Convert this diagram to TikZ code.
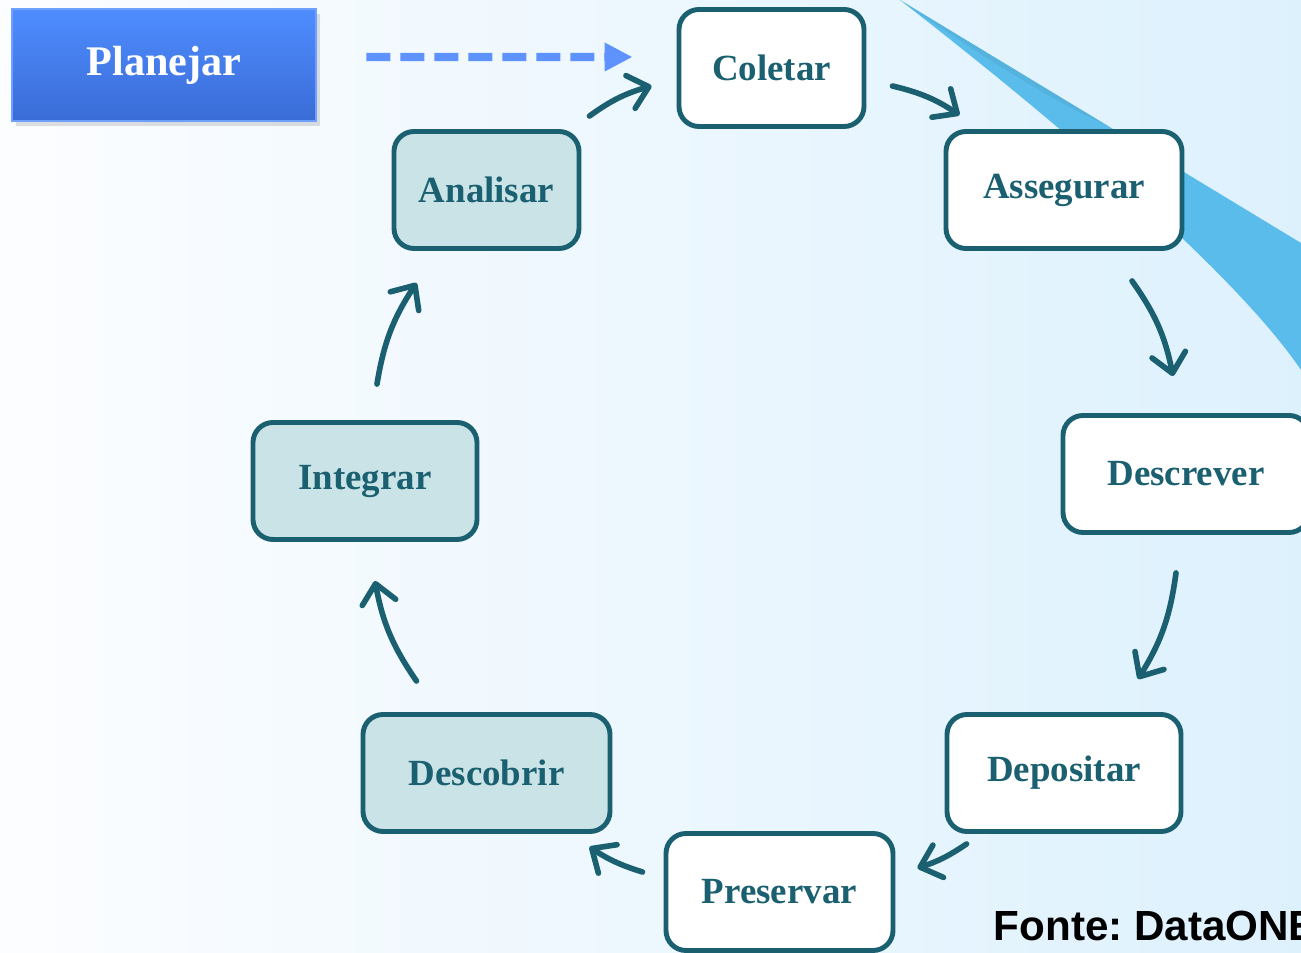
\documentclass[tikz,border=0pt]{standalone}
\usepackage{fontspec}
\setmainfont{Liberation Serif}
\newfontfamily\sansbold{Liberation Sans}
\usepackage{tikz}
\usetikzlibrary{arrows.meta, positioning, shadows}

\definecolor{tealdark}{RGB}{27,96,112}
\definecolor{tealfill}{RGB}{201,227,231}
\definecolor{planblue}{RGB}{94,147,255}
\definecolor{swoosh}{RGB}{90,188,234}

\begin{document}
\begin{tikzpicture}[
    stage/.style={draw=tealdark, line width=1.4pt, rounded corners=0.2cm, fill=white,
      minimum height=1.17cm, text=tealdark, font=\fontsize{10.5}{12}\selectfont\bfseries},
    done/.style={stage, fill=tealfill},
    flow/.style={draw=tealdark, line width=1.6pt, line cap=round,
      -{Straight Barb[length=1.9mm, width=3.4mm, round]}}
  ]
  \clip (0,0) rectangle (13.01,-9.53);
  \shade[left color={rgb,255:red,252;green,253;blue,255}, right color={rgb,255:red,221;green,241;blue,253}]
    (0,0) rectangle (13.01,-9.53);
  % ribbon in the upper right corner
  \fill[swoosh] (9.0,0) -- (13.01,-2.43) -- (13.01,-3.70)
    .. controls (12.40,-2.80) and (10.80,-1.40) .. (9.0,0);
  \fill[swoosh!85!black, opacity=0.35] (9.0,0) -- (11.1,-1.27) .. controls (10.5,-1.0) and (9.8,-0.55) .. (9.0,0);

  \node[draw={rgb,255:red,110;green,160;blue,255}, line width=0.8pt, top color={rgb,255:red,79;green,141;blue,255},
    bottom color={rgb,255:red,58;green,108;blue,214}, minimum width=3.04cm, minimum height=1.12cm,
    text=white, font=\fontsize{12}{14}\selectfont\bfseries,
    drop shadow={opacity=0.25, shadow xshift=0.04cm, shadow yshift=-0.05cm}] (plan) at (1.64,-0.65) {Planejar};

  \node[stage, minimum width=1.85cm] (col) at (7.715,-0.68) {Coletar};
  \node[stage, minimum width=2.36cm] (ass) at (10.64,-1.90) {Assegurar};
  \node[stage, minimum width=2.46cm] (des) at (11.86,-4.74) {Descrever};
  \node[stage, minimum width=2.34cm] (dep) at (10.64,-7.73) {Depositar};
  \node[stage, minimum width=2.27cm] (pre) at (7.795,-8.92) {Preservar};
  \node[done, minimum width=2.47cm] (dsc) at (4.865,-7.73) {Descobrir};
  \node[done, minimum width=2.24cm] (int) at (3.65,-4.81) {Integrar};
  \node[done, minimum width=1.85cm] (ana) at (4.865,-1.90) {Analisar};

  \draw[planblue, line width=2.3pt, dash pattern=on 2.4mm off 1mm,
    -{Triangle[length=2.8mm, width=2.7mm]}]
    ([shift={(0.49,0.08)}]plan.east) -- ([shift={(-0.44,0.11)}]col.west);

  % cycle
  \draw[flow] ([shift={(0.08,0.13)}]ana.north east) to[bend left=10] ([shift={(-0.25,-0.18)}]col.west);
  \draw[flow] ([shift={(0.26,-0.18)}]col.east) to[bend left=10] ([shift={(0.16,0.14)}]ass.north west);
  \draw[flow] ([shift={(0.68,-0.30)}]ass.south) to[bend left=12] ([shift={(-0.13,0.37)}]des.north);
  \draw[flow] ([shift={(-0.10,-0.38)}]des.south) to[bend left=12] ([shift={(0.74,0.33)}]dep.north);
  \draw[flow] ([shift={(0.22,-0.10)}]dep.south west) to[bend left=8] ([shift={(0.22,-0.37)}]pre.north east);
  \draw[flow] ([shift={(-0.21,0.20)}]pre.west) to[bend left=8] ([shift={(-0.23,-0.13)}]dsc.south east);
  \draw[flow] ([shift={(-0.70,0.31)}]dsc.north) to[bend left=12] ([shift={(0.10,-0.39)}]int.south);
  \draw[flow] ([shift={(0.12,0.36)}]int.north) to[bend left=12] ([shift={(-0.70,-0.32)}]ana.south);

  \node[anchor=base west, inner sep=0pt, font=\sansbold\fontsize{12}{14}\selectfont\bfseries] (src) at (9.93,-9.41) {Fonte:\ DataONE};
\end{tikzpicture}
\end{document}
